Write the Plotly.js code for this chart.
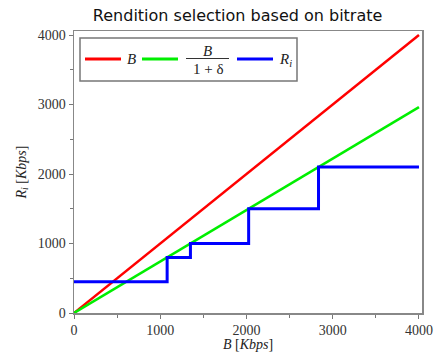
<!DOCTYPE html>
<html><head><meta charset="utf-8">
<script src="https://cdn.plot.ly/plotly-3.0.1.min.js"></script>
<style>html,body{margin:0;padding:0;background:#fff;}</style>
</head><body><div id="chart" style="width:436px;height:352px;"></div>
<script>
// Bitrate B in Kbps
const bitrate = [0, 4000];
const rateB = [0, 4000];
const rateBdelta = [0, 2963];           // B/(1+δ), δ ≈ 0.35
// Selected rendition R_i (step)
const stepX = [0, 1080, 1350, 2025, 2835, 4000];
const stepY = [450, 800, 1000, 1500, 2100, 2100];
const colors = ['#ff0000', '#00ee00', '#0000ff'];
const names = ['B', 'B/(1+δ)', 'R_i'];

const serif = 'Liberation Serif, Times New Roman, serif';
const W = 436, H = 352, ML = 74, MR = 14, MT = 31, MB = 39;
const pw = W - ML - MR, ph = H - MT - MB;
const px = X => (X - ML) / pw;
const py = Y => (H - MB - Y) / ph;

const traces = [
  {x: bitrate, y: rateB, mode: 'lines', name: names[0], line: {color: colors[0], width: 2.5}},
  {x: bitrate, y: rateBdelta, mode: 'lines', name: names[1], line: {color: colors[1], width: 2.5}},
  {x: stepX, y: stepY, mode: 'lines', name: names[2], line: {color: colors[2], width: 3, shape: 'hv'}}
];
const axisCommon = {
  showgrid: false, zeroline: false, showline: true, linecolor: '#888', linewidth: 1.5,
  mirror: true, ticks: 'outside', ticklen: 4, tickcolor: '#777', dtick: 1000, tick0: 0,
  tickfont: {family: serif, size: 14, color: '#333'},
  minor: {ticks: 'outside', ticklen: 3, dtick: 500, tickcolor: '#777'}
};

// manual legend (box, line samples, math-style labels)
const legY = 59;
const samples = [[85, 121], [142, 178], [237, 273]];
const shapes = [
  {type: 'rect', xref: 'paper', yref: 'paper', x0: px(80), x1: px(297), y0: py(81), y1: py(38),
   line: {color: '#777', width: 1.5}, fillcolor: '#fff', layer: 'above'}
];
samples.forEach((s, i) => shapes.push({type: 'line', xref: 'paper', yref: 'paper',
  x0: px(s[0]), x1: px(s[1]), y0: py(legY), y1: py(legY), line: {color: colors[i], width: 3}, layer: 'above'}));
shapes.push({type: 'line', xref: 'paper', yref: 'paper', x0: px(186), x1: px(229), y0: py(58.5), y1: py(58.5),
  line: {color: '#333', width: 1}, layer: 'above'});

const lf = {family: serif, size: 15, color: '#222'};
const ann = (X, Y, t) => ({xref: 'paper', yref: 'paper', x: px(X), y: py(Y), text: t, showarrow: false,
  xanchor: 'center', yanchor: 'middle', font: lf});
const annotations = [
  ann(131, legY, '<i>B</i>'),
  ann(207, 50.5, '<i>B</i>'),
  ann(208, 68.5, '1 + δ'),
  ann(285, legY + 1, '<i>R<sub>i</sub></i>')
];

const layout = {
  width: W, height: H,
  margin: {l: ML, r: MR, t: MT, b: MB},
  paper_bgcolor: '#fff', plot_bgcolor: '#fff',
  title: {text: 'Rendition selection based on bitrate', x: 0.545, xanchor: 'center', y: 0.957, yanchor: 'middle',
          font: {family: 'DejaVu Sans, Verdana, sans-serif', size: 16, color: '#111'}},
  xaxis: Object.assign({}, axisCommon, {range: [0, 4035],
    title: {text: '<i>B</i> [<i>Kbps</i>]', standoff: 2, font: {family: serif, size: 14, color: '#222'}}}),
  yaxis: Object.assign({}, axisCommon, {range: [0, 4058],
    title: {text: '<i>R<sub>i</sub></i> [<i>Kbps</i>]', standoff: 8, font: {family: serif, size: 14, color: '#222'}}}),
  showlegend: false,
  shapes: shapes,
  annotations: annotations
};
Plotly.newPlot('chart', traces, layout, {displayModeBar: false, staticPlot: true});
</script></body></html>
